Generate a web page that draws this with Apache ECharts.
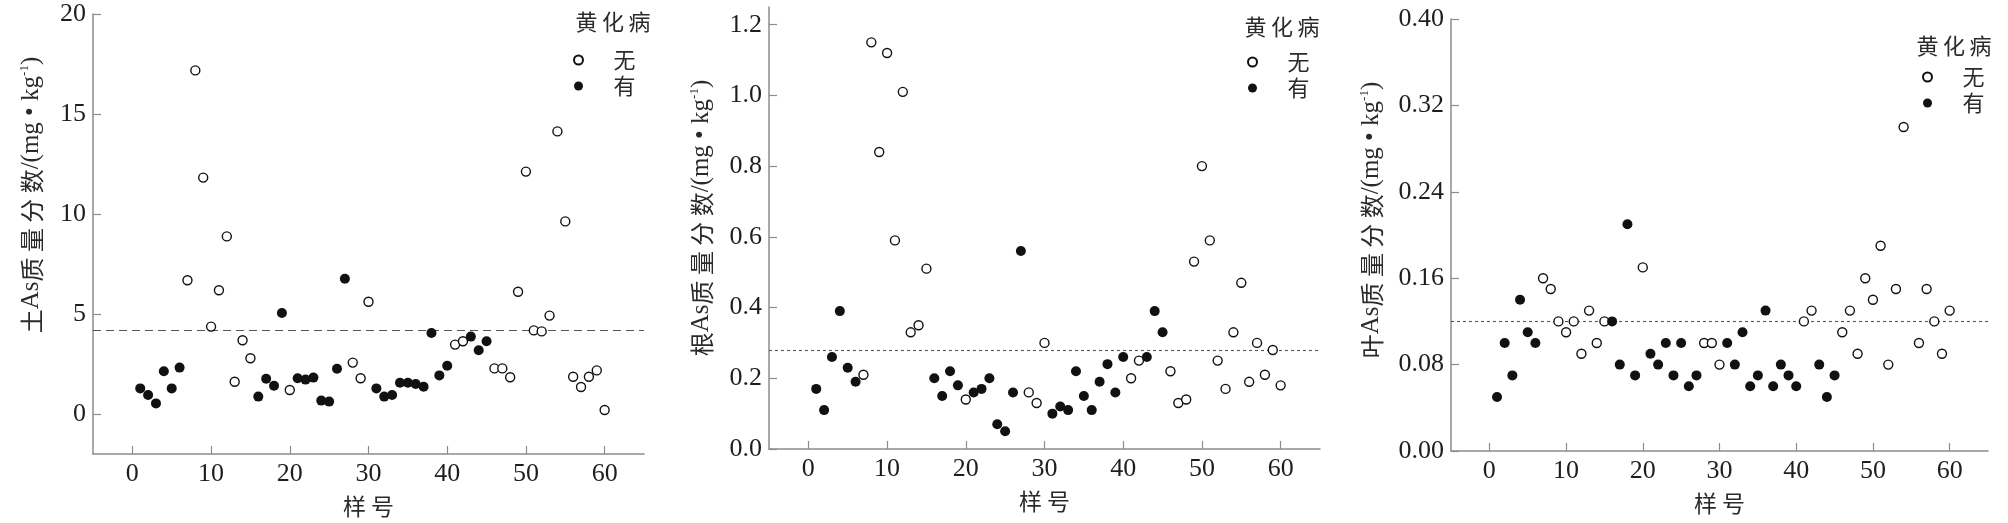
<!DOCTYPE html>
<html><head><meta charset="utf-8">
<script src="https://cdn.jsdelivr.net/npm/echarts@6/dist/echarts.min.js"></script>
<style>html,body{margin:0;padding:0;background:#fff}#c{width:2008px;height:523px}</style>
</head><body><div id="c"></div>
<script>
const sampleNo = [1,2,3,4,5,6,7,8,9,10,11,12,13,14,15,16,17,18,19,20,21,22,23,24,25,26,27,28,29,30,31,32,33,34,35,36,37,38,39,40,41,42,43,44,45,46,47,48,49,50,51,52,53,54,55,56,57,58,59,60];
const chlorosis = ['有','有','有','有','有','有','无','无','无','无','无','无','无','无','无','有','有','有','有','无','有','有','有','有','有','有','有','无','无','无','有','有','有','有','有','有','有','有','有','有','无','无','有','有','有','无','无','无','无','无','无','无','无','无','无','无','无','无','无','无'];
const soilAs = [1.28,0.95,0.53,2.14,1.28,2.32,6.69,17.18,11.82,4.37,6.19,8.88,1.61,3.69,2.79,0.87,1.76,1.41,5.05,1.20,1.79,1.72,1.82,0.67,0.62,2.26,6.76,2.57,1.79,5.61,1.28,0.87,0.95,1.56,1.56,1.50,1.36,4.05,1.93,2.41,3.47,3.64,3.87,3.19,3.64,2.28,2.28,1.84,6.11,12.12,4.18,4.13,4.92,14.13,9.63,1.86,1.35,1.86,2.18,0.20];
const rootAs = [0.17,0.11,0.26,0.39,0.23,0.19,0.21,1.15,0.84,1.12,0.59,1.01,0.33,0.35,0.51,0.20,0.15,0.22,0.18,0.14,0.16,0.17,0.20,0.07,0.05,0.16,0.56,0.16,0.13,0.30,0.10,0.12,0.11,0.22,0.15,0.11,0.19,0.24,0.16,0.26,0.20,0.25,0.26,0.39,0.33,0.22,0.13,0.14,0.53,0.80,0.59,0.25,0.17,0.33,0.47,0.19,0.30,0.21,0.28,0.18];
const leafAs = [0.05,0.10,0.07,0.14,0.11,0.10,0.16,0.15,0.12,0.11,0.12,0.09,0.13,0.10,0.12,0.12,0.08,0.21,0.07,0.17,0.09,0.08,0.10,0.07,0.10,0.06,0.07,0.10,0.10,0.08,0.10,0.08,0.11,0.06,0.07,0.13,0.06,0.08,0.07,0.06,0.12,0.13,0.08,0.05,0.07,0.11,0.13,0.09,0.16,0.14,0.19,0.08,0.15,0.30,null,0.10,0.15,0.12,0.09,0.13];
const refLines = [4.17, 0.283, 0.12];
const legendTitle = '黄化病';
const groupNames = ['无', '有'];
const xTicks = [0,10,20,30,40,50,60];
const soilTicks = [0,5,10,15,20];
const rootTicks = [0,0.2,0.4,0.6,0.8,1.0,1.2];
const leafTicks = [0,0.08,0.16,0.24,0.32,0.40];
const yTitleOrgan = ['土', '根', '叶'];
const yTitleRest = ['As', '质 量 分 数', '/(mg • kg'];
const yTitleSup = '-1';
const xTitle = '样 号';

const SERIF = "Liberation Serif, Times New Roman, DejaVu Serif, serif";
const CJK = "Noto Sans CJK SC, sans-serif";
const AX = '#8c8c8c';
const TXT = '#1e1e1e';

const panels = [
  {grid:{left:93,top:14,width:551,height:441}, ymin:-2, ymax:20, ticks:soilTicks, values:soilAs, fmt:v=>String(v), dash:[8,5],
   legend:{left:573,top:49}, title:{x:613,y:22}, ytitle:{x:31,y:195}},
  {grid:{left:769,top:7,width:551,height:442}, ymin:0, ymax:1.25, ticks:rootTicks, values:rootAs, fmt:v=>v.toFixed(1), dash:[3,3],
   legend:{left:1247,top:51}, title:{x:1282,y:27}, ytitle:{x:701,y:218}},
  {grid:{left:1451,top:19,width:537,height:432}, ymin:0, ymax:0.40, ticks:leafTicks, values:leafAs, fmt:v=>v.toFixed(2), dash:[3,3],
   legend:{left:1922,top:66}, title:{x:1954,y:46}, ytitle:{x:1371,y:220}}
];

const grids=[], xAxes=[], yAxes=[], series=[], legends=[], graphics=[];
panels.forEach((p, i) => {
  grids.push(Object.assign({containLabel:false}, p.grid));
  xAxes.push({
    type:'value', gridIndex:i, min:-5, max:65,
    axisLine:{show:true, onZero:false, lineStyle:{color:AX, width:1.5}},
    axisTick:{show:true, inside:true, length:8, customValues:xTicks, lineStyle:{color:AX, width:1.2}},
    axisLabel:{customValues:xTicks, margin:7, fontSize:26, fontFamily:SERIF, color:TXT},
    splitLine:{show:false},
    name:xTitle, nameLocation:'middle', nameGap:41,
    nameTextStyle:{fontSize:23, fontFamily:CJK, color:'#2a2a2a'}
  });
  yAxes.push({
    type:'value', gridIndex:i, min:p.ymin, max:p.ymax,
    axisLine:{show:true, onZero:false, lineStyle:{color:AX, width:1.5}},
    axisTick:{show:true, inside:true, length:8, customValues:p.ticks, lineStyle:{color:AX, width:1.2}},
    axisLabel:{customValues:p.ticks, margin:7, fontSize:26, fontFamily:SERIF, color:TXT, formatter:p.fmt},
    splitLine:{show:false}
  });
  groupNames.forEach((g, k) => {
    const data = [];
    sampleNo.forEach((n, j) => { if (chlorosis[j] === g && p.values[j] != null) data.push([n, p.values[j]]); });
    const s = {
      name:g, type:'scatter', xAxisIndex:i, yAxisIndex:i, data:data,
      symbol:'circle',
      symbolSize: g === '无' ? 9 : 10,
      itemStyle: g === '无' ? {color:'#ffffff', borderColor:'#111', borderWidth:1.4, opacity:1} : {color:'#111', borderWidth:0, opacity:1},
      emphasis:{disabled:true}, z: g === '无' ? 3 : 4
    };
    if (k === 0) {
      s.markLine = {silent:true, symbol:'none', label:{show:false},
        lineStyle:{type:p.dash, color:'#555', width:1.1}, data:[{yAxis:refLines[i]}], z:1};
    }
    series.push(s);
  });
  legends.push({
    orient:'vertical', left:p.legend.left, top:p.legend.top, padding:0, itemGap:4,
    itemWidth:60, itemHeight:9, icon:'circle', data:groupNames, selectedMode:false,
    textStyle:{fontSize:22, fontFamily:CJK, color:'#2a2a2a', lineHeight:22}
  });
  graphics.push({type:'text', x:p.title.x, y:p.title.y,
    style:{text:legendTitle.split('').join('\u2009'), font:"22px Noto Sans CJK SC", fill:'#2a2a2a', align:'center', verticalAlign:'middle'}});
  graphics.push({type:'text', x:p.ytitle.x, y:p.ytitle.y, rotation:Math.PI/2,
    style:{text:'{c|' + yTitleOrgan[i] + '}{m|' + yTitleRest[0] + '}{c|' + yTitleRest[1] + '}{m|' + yTitleRest[2] + '}{s|' + yTitleSup + '}{m|)}',
      align:'center', verticalAlign:'middle',
      rich:{c:{fontSize:24, fontFamily:CJK, fill:'#2a2a2a', verticalAlign:'bottom'},
            m:{fontSize:25, fontFamily:SERIF, fill:'#2a2a2a', verticalAlign:'bottom'},
            s:{fontSize:13, fontFamily:SERIF, fill:'#2a2a2a', padding:[0,0,13,0], verticalAlign:'bottom'}}}});
});

const chart = echarts.init(document.getElementById('c'), null, {renderer:'canvas'});
chart.setOption({
  animation:false, backgroundColor:'#ffffff',
  grid:grids, xAxis:xAxes, yAxis:yAxes, series:series, legend:legends, graphic:graphics
});
</script></body></html>
